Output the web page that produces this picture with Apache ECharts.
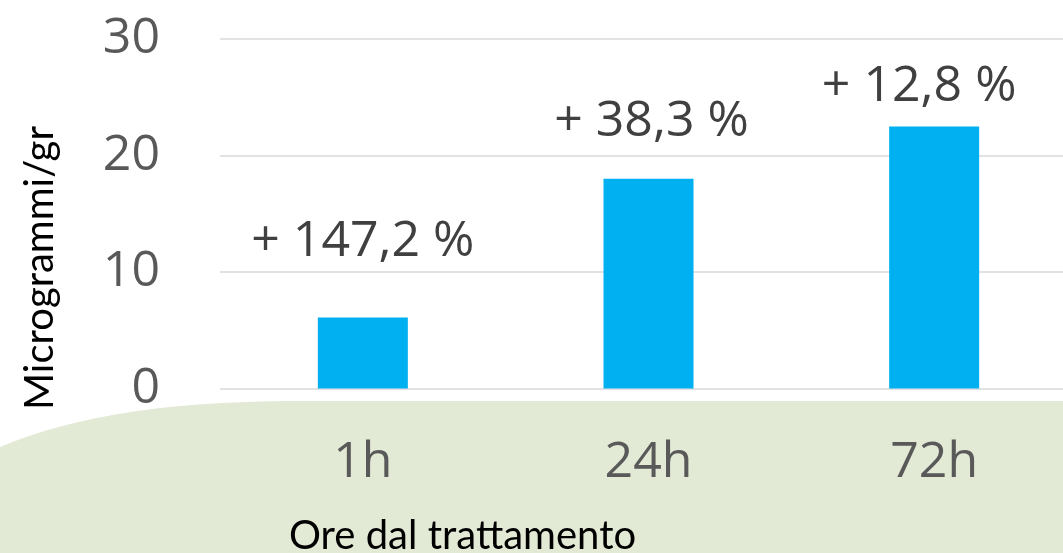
<!DOCTYPE html>
<html>
<head>
<meta charset="utf-8">
<script src="https://cdn.jsdelivr.net/npm/echarts@6/dist/echarts.min.js"></script>
<style>
html, body { margin: 0; padding: 0; background: #fff; overflow: hidden; }
/* l'area del grafico sborda a destra come nell'originale */
#chart { width: 1077px; height: 553px; }
</style>
</head>
<body>
<div id="chart"></div>
<script>
'use strict';

///// dati /////
const categories = ['1h', '24h', '72h'];
const values = [6.1, 18.0, 22.5];
const labels = ['+ 147,2 %', '+ 38,3 %', '+ 12,8 %'];
const yTicks = [0, 10, 20, 30];

// posizione etichette (posate a mano nell'originale)
const labelGaps = [51, 32, 15];
const labelShiftX = [0, 3, -15];

const yName = 'Microgrammi/gr';
const xName = 'Ore dal trattamento';

///// sfondo verde: bordo curvo in alto a sinistra /////
const bgPoints = (() => {
  const p0 = [0, 447], p1 = [70, 418], p2 = [160, 401], p3 = [300, 401];
  const pts = [];
  for (let i = 0; i <= 30; i++) {
    const t = i / 30, u = 1 - t;
    pts.push([
      u*u*u*p0[0] + 3*u*u*t*p1[0] + 3*u*t*t*p2[0] + t*t*t*p3[0],
      u*u*u*p0[1] + 3*u*u*t*p1[1] + 3*u*t*t*p2[1] + t*t*t*p3[1]
    ]);
  }
  pts.push([1077, 401], [1077, 553], [0, 553]);
  return pts;
})();

///// grafico /////
const chart = echarts.init(document.getElementById('chart'));

chart.setOption({
  animation: false,
  backgroundColor: '#fff',
  grid: { left: 220, top: 39, right: 0, bottom: 164.5 },
  graphic: [
    {
      type: 'polygon',
      z: -10,
      silent: true,
      shape: { points: bgPoints },
      style: { fill: '#e2e9d4' }
    },
    {
      type: 'text',
      left: 289, top: 516,
      style: { text: xName, font: '40px Lato', fill: '#000' }
    },
    {
      type: 'text',
      x: 40, y: 268,
      rotation: Math.PI / 2,
      style: { text: yName, font: '40px Lato', fill: '#000', align: 'center', verticalAlign: 'middle' }
    }
  ],
  xAxis: {
    type: 'category',
    data: categories,
    axisLine: { show: false },
    axisTick: { show: false },
    axisLabel: { color: '#595959', fontFamily: 'Open Sans', fontSize: 50, margin: 49 }
  },
  yAxis: {
    type: 'value',
    min: yTicks[0],
    max: yTicks[yTicks.length - 1],
    interval: yTicks[1] - yTicks[0],
    axisLine: { show: false },
    axisTick: { show: false },
    axisLabel: { color: '#595959', fontFamily: 'Open Sans', fontSize: 50, margin: 60 },
    splitLine: { lineStyle: { color: '#d9d9d9', width: 1.5 } }
  },
  series: [{
    type: 'bar',
    barWidth: 90,
    itemStyle: { color: '#00b0f0' },
    data: values.map((v, i) => ({
      value: v,
      label: {
        show: true,
        position: 'top',
        distance: labelGaps[i],
        offset: [labelShiftX[i], 0],
        formatter: labels[i],
        color: '#404040',
        fontFamily: 'Open Sans',
        fontSize: 50
      }
    }))
  }]
});
</script>
</body>
</html>
